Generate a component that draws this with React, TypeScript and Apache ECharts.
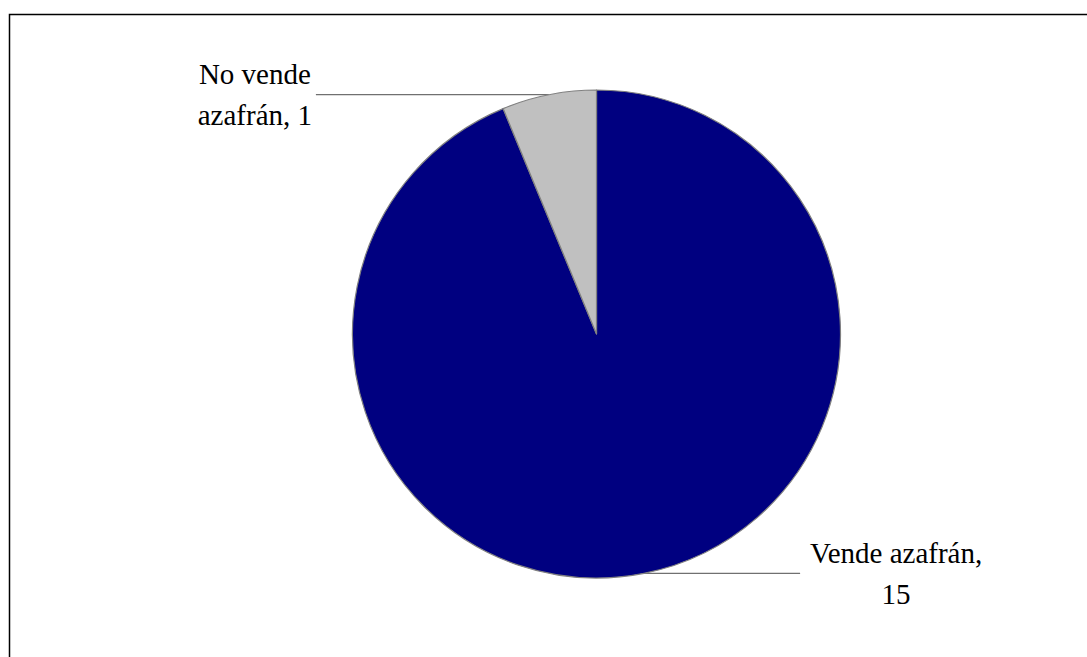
import React, { useEffect, useRef } from "react";
import * as echarts from "echarts";

const categories = ["Vende azafrán", "No vende azafrán"];
const values = [15, 1];
const labelTexts = [["Vende azafrán,", "15"], ["No vende", "azafrán, 1"]];
const colors = ["#000080", "#C0C0C0"];
const leaderLengths = [156, 233];
const labelWidths = [180, 120];
const serif = "'Liberation Serif', 'Times New Roman', 'DejaVu Serif', serif";

export default function App() {
  const ref = useRef<HTMLDivElement>(null);
  useEffect(() => {
    if (!ref.current) return;
    const chart = echarts.init(ref.current, null, { renderer: "svg" });
    const data = categories.map((name, i) => ({
      name,
      value: values[i],
      itemStyle: { color: colors[i] },
      label: {
        formatter: labelTexts[i].map((t) => `{a|${t}}`).join("\n"),
        rich: {
          a: {
            width: labelWidths[i],
            align: "center",
            fontFamily: serif,
            fontSize: 29,
            lineHeight: 41,
            color: "#000",
          },
        },
        distanceToLabelLine: i === 0 ? 6 : 1,
      },
      labelLine: { length: 0, length2: leaderLengths[i] },
    }));
    chart.setOption({
      animation: false,
      backgroundColor: "#fff",
      graphic: [
        {
          type: "rect",
          shape: { x: 9.5, y: 14.5, width: 1200, height: 800 },
          style: { fill: "none", stroke: "#000", lineWidth: 1.5 },
          silent: true,
        },
      ],
      series: [
        {
          type: "pie",
          center: [596.5, 334],
          radius: 244,
          startAngle: 90,
          clockwise: true,
          avoidLabelOverlap: false,
          data,
          itemStyle: { borderColor: "#808080", borderWidth: 1.2 },
          label: {
            show: true,
            position: "outside",
            fontFamily: serif,
            fontSize: 29,
          },
          labelLine: {
            show: true,
            smooth: false,
            minTurnAngle: 0,
            maxSurfaceAngle: 180,
            lineStyle: { color: "#707070", width: 1.2 },
          },
          emphasis: { disabled: true },
        },
      ],
    });
    return () => chart.dispose();
  }, []);
  return (
    <div
      ref={ref}
      style={{ position: "fixed", left: 0, top: 0, width: 1087, height: 657 }}
    />
  );
}
